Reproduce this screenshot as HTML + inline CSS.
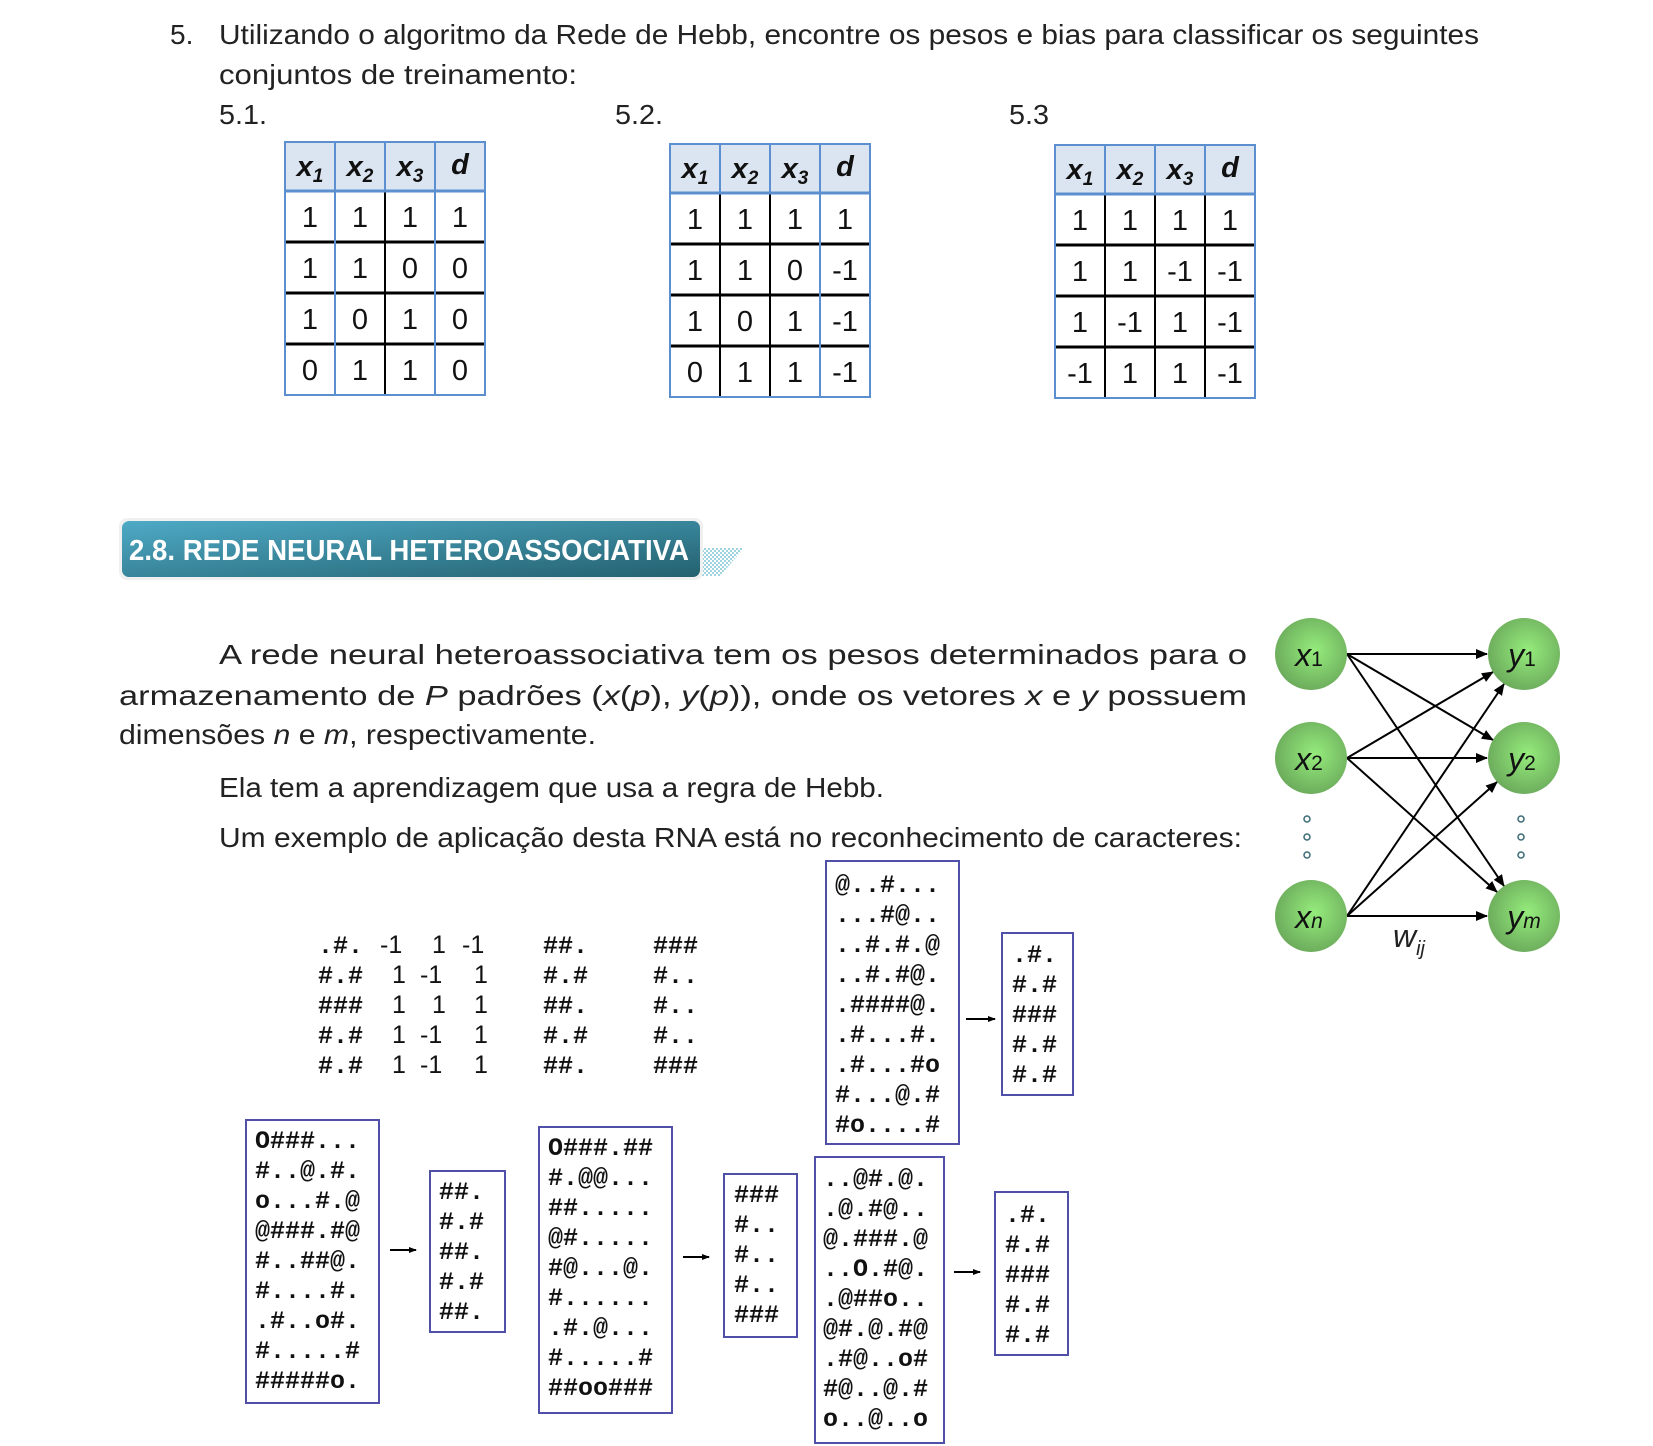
<!DOCTYPE html>
<html><head><meta charset="utf-8"><style>
html,body{margin:0;padding:0;background:#fff;}
svg{display:block;}
.t{font-family:"Liberation Sans",sans-serif;font-size:28px;fill:#222;}
.c{font-family:"Liberation Sans",sans-serif;font-size:29px;fill:#111;text-anchor:middle;}
.h{font-family:"Liberation Sans",sans-serif;font-size:29px;font-weight:bold;font-style:italic;fill:#111;text-anchor:middle;}
.m{font-family:"Liberation Mono",monospace;font-size:25px;font-weight:bold;fill:#111;}
.n{font-family:"Liberation Sans",sans-serif;font-size:25px;fill:#111;}
.nd{font-family:"Liberation Sans",sans-serif;font-size:32px;font-style:italic;fill:#111;text-anchor:middle;}
.box{fill:none;stroke:#5050a8;stroke-width:2;}
</style></head><body>
<svg width="1653" height="1446" viewBox="0 0 1653 1446" xmlns="http://www.w3.org/2000/svg">
<defs>
<linearGradient id="bg" x1="0" y1="0" x2="1" y2="1"><stop offset="0" stop-color="#4eaac6"/><stop offset="1" stop-color="#24616f"/></linearGradient>
<radialGradient id="ng" cx="0.55" cy="0.45" r="0.6"><stop offset="0" stop-color="#95ec7c"/><stop offset="1" stop-color="#6aa85a"/></radialGradient>
<pattern id="pt" width="4" height="4" patternUnits="userSpaceOnUse"><rect width="2" height="2" fill="#9fd3e0"/><rect x="2" y="2" width="2" height="2" fill="#9fd3e0"/></pattern>
<marker id="ar" markerWidth="12" markerHeight="10" refX="11" refY="5" orient="auto" markerUnits="userSpaceOnUse"><path d="M0,0 L12,5 L0,10 z" fill="#000"/></marker>
<marker id="ar2" markerWidth="8" markerHeight="6" refX="7" refY="3" orient="auto" markerUnits="userSpaceOnUse"><path d="M0,0 L8,3 L0,6 z" fill="#000"/></marker>
</defs>

<text class="t" x="170" y="44">5.</text>
<text class="t" x="219" y="44" textLength="1260" lengthAdjust="spacingAndGlyphs">Utilizando o algoritmo da Rede de Hebb, encontre os pesos e bias para classificar os seguintes</text>
<text class="t" x="219" y="84" textLength="358" lengthAdjust="spacingAndGlyphs">conjuntos de treinamento:</text>
<text class="t" x="219" y="124" textLength="48" lengthAdjust="spacingAndGlyphs">5.1.</text>
<text class="t" x="615" y="124" textLength="48" lengthAdjust="spacingAndGlyphs">5.2.</text>
<text class="t" x="1009" y="124" textLength="40" lengthAdjust="spacingAndGlyphs">5.3</text>

<!-- Table 1 -->
<g transform="translate(285,142)">
<rect x="0" y="0" width="200" height="49" fill="#dbe5f1"/>
<g stroke="#000" stroke-width="2"><line x1="100" y1="49" x2="100" y2="253"/><line x1="0" y1="100" x2="200" y2="100" stroke-width="3"/><line x1="0" y1="151" x2="200" y2="151" stroke-width="3"/><line x1="0" y1="202" x2="200" y2="202" stroke-width="3"/></g>
<g stroke="#5b8fd0" stroke-width="2" fill="none"><rect x="0" y="0" width="200" height="253"/><line x1="50" y1="0" x2="50" y2="253"/><line x1="100" y1="0" x2="100" y2="49"/><line x1="150" y1="0" x2="150" y2="253"/><line x1="0" y1="49" x2="200" y2="49" stroke-width="3"/></g>
<text class="h" x="25" y="34">x<tspan font-size="19" dy="6">1</tspan></text><text class="h" x="75" y="34">x<tspan font-size="19" dy="6">2</tspan></text><text class="h" x="125" y="34">x<tspan font-size="19" dy="6">3</tspan></text><text class="h" x="175" y="32">d</text>
<text class="c" y="85"><tspan x="25">1</tspan><tspan x="75">1</tspan><tspan x="125">1</tspan><tspan x="175">1</tspan></text>
<text class="c" y="136"><tspan x="25">1</tspan><tspan x="75">1</tspan><tspan x="125">0</tspan><tspan x="175">0</tspan></text>
<text class="c" y="187"><tspan x="25">1</tspan><tspan x="75">0</tspan><tspan x="125">1</tspan><tspan x="175">0</tspan></text>
<text class="c" y="238"><tspan x="25">0</tspan><tspan x="75">1</tspan><tspan x="125">1</tspan><tspan x="175">0</tspan></text>
</g>

<!-- Table 2 -->
<g transform="translate(670,144)">
<rect x="0" y="0" width="200" height="49" fill="#dbe5f1"/>
<g stroke="#000" stroke-width="2"><line x1="50" y1="49" x2="50" y2="253"/><line x1="100" y1="49" x2="100" y2="253"/><line x1="0" y1="100" x2="200" y2="100" stroke-width="3"/><line x1="0" y1="151" x2="200" y2="151" stroke-width="3"/><line x1="0" y1="202" x2="200" y2="202" stroke-width="3"/></g>
<g stroke="#5b8fd0" stroke-width="2" fill="none"><rect x="0" y="0" width="200" height="253"/><line x1="50" y1="0" x2="50" y2="49"/><line x1="100" y1="0" x2="100" y2="49"/><line x1="150" y1="0" x2="150" y2="253"/><line x1="0" y1="49" x2="200" y2="49" stroke-width="3"/></g>
<text class="h" x="25" y="34">x<tspan font-size="19" dy="6">1</tspan></text><text class="h" x="75" y="34">x<tspan font-size="19" dy="6">2</tspan></text><text class="h" x="125" y="34">x<tspan font-size="19" dy="6">3</tspan></text><text class="h" x="175" y="32">d</text>
<text class="c" y="85"><tspan x="25">1</tspan><tspan x="75">1</tspan><tspan x="125">1</tspan><tspan x="175">1</tspan></text>
<text class="c" y="136"><tspan x="25">1</tspan><tspan x="75">1</tspan><tspan x="125">0</tspan><tspan x="175">-1</tspan></text>
<text class="c" y="187"><tspan x="25">1</tspan><tspan x="75">0</tspan><tspan x="125">1</tspan><tspan x="175">-1</tspan></text>
<text class="c" y="238"><tspan x="25">0</tspan><tspan x="75">1</tspan><tspan x="125">1</tspan><tspan x="175">-1</tspan></text>
</g>

<!-- Table 3 -->
<g transform="translate(1055,145)">
<rect x="0" y="0" width="200" height="49" fill="#dbe5f1"/>
<g stroke="#000" stroke-width="2"><line x1="50" y1="49" x2="50" y2="253"/><line x1="100" y1="49" x2="100" y2="253"/><line x1="150" y1="49" x2="150" y2="253"/><line x1="0" y1="100" x2="200" y2="100" stroke-width="3"/><line x1="0" y1="151" x2="200" y2="151" stroke-width="3"/><line x1="0" y1="202" x2="200" y2="202" stroke-width="3"/></g>
<g stroke="#5b8fd0" stroke-width="2" fill="none"><rect x="0" y="0" width="200" height="253"/><line x1="50" y1="0" x2="50" y2="49"/><line x1="100" y1="0" x2="100" y2="49"/><line x1="150" y1="0" x2="150" y2="49"/><line x1="0" y1="49" x2="200" y2="49" stroke-width="3"/></g>
<text class="h" x="25" y="34">x<tspan font-size="19" dy="6">1</tspan></text><text class="h" x="75" y="34">x<tspan font-size="19" dy="6">2</tspan></text><text class="h" x="125" y="34">x<tspan font-size="19" dy="6">3</tspan></text><text class="h" x="175" y="32">d</text>
<text class="c" y="85"><tspan x="25">1</tspan><tspan x="75">1</tspan><tspan x="125">1</tspan><tspan x="175">1</tspan></text>
<text class="c" y="136"><tspan x="25">1</tspan><tspan x="75">1</tspan><tspan x="125">-1</tspan><tspan x="175">-1</tspan></text>
<text class="c" y="187"><tspan x="25">1</tspan><tspan x="75">-1</tspan><tspan x="125">1</tspan><tspan x="175">-1</tspan></text>
<text class="c" y="238"><tspan x="25">-1</tspan><tspan x="75">1</tspan><tspan x="125">1</tspan><tspan x="175">-1</tspan></text>
</g>

<!-- Banner -->
<polygon points="700,548 744,548 720,576 700,576" fill="url(#pt)"/>
<rect x="119" y="518" width="584" height="62" rx="8" fill="#f0f0f0"/>
<rect x="122" y="521" width="578" height="56" rx="7" fill="url(#bg)"/>
<text x="129" y="560" font-family="Liberation Sans, sans-serif" font-size="29" font-weight="bold" fill="#fff" textLength="560" lengthAdjust="spacingAndGlyphs">2.8. REDE NEURAL HETEROASSOCIATIVA</text>

<!-- Paragraph -->
<text class="t" x="219" y="664" textLength="1028" lengthAdjust="spacingAndGlyphs">A  rede  neural  heteroassociativa  tem  os  pesos  determinados  para  o</text>
<text class="t" x="119" y="705" textLength="1128" lengthAdjust="spacingAndGlyphs">armazenamento  de  <tspan font-style="italic">P</tspan>  padrões  (<tspan font-style="italic">x</tspan>(<tspan font-style="italic">p</tspan>),  <tspan font-style="italic">y</tspan>(<tspan font-style="italic">p</tspan>)),  onde  os  vetores  <tspan font-style="italic">x</tspan>  e  <tspan font-style="italic">y</tspan>  possuem</text>
<text class="t" x="119" y="744" textLength="477" lengthAdjust="spacingAndGlyphs">dimensões <tspan font-style="italic">n</tspan> e <tspan font-style="italic">m</tspan>, respectivamente.</text>
<text class="t" x="219" y="797" textLength="665" lengthAdjust="spacingAndGlyphs">Ela tem a aprendizagem que usa a regra de Hebb.</text>
<text class="t" x="219" y="847" textLength="1023" lengthAdjust="spacingAndGlyphs">Um exemplo de aplicação desta RNA está no reconhecimento de caracteres:</text>

<!-- Network -->
<g transform="translate(-7,-4)">
<g stroke="#000" stroke-width="2" marker-end="url(#ar)">
<line x1="1354" y1="658" x2="1494" y2="658"/>
<line x1="1354" y1="658" x2="1500" y2="744"/>
<line x1="1354" y1="658" x2="1511" y2="890"/>
<line x1="1354" y1="762" x2="1500" y2="676"/>
<line x1="1354" y1="762" x2="1494" y2="762"/>
<line x1="1354" y1="762" x2="1504" y2="896"/>
<line x1="1354" y1="920" x2="1511" y2="688"/>
<line x1="1354" y1="920" x2="1504" y2="786"/>
<line x1="1354" y1="920" x2="1494" y2="920"/>
</g>
<g fill="url(#ng)">
<circle cx="1318" cy="658" r="36"/><circle cx="1318" cy="762" r="36"/><circle cx="1318" cy="920" r="36"/>
<circle cx="1531" cy="658" r="36"/><circle cx="1531" cy="762" r="36"/><circle cx="1531" cy="920" r="36"/>
</g>
<text class="nd" x="1316" y="670">x<tspan font-style="normal" font-size="21">1</tspan></text>
<text class="nd" x="1316" y="774">x<tspan font-style="normal" font-size="21">2</tspan></text>
<text class="nd" x="1316" y="932">x<tspan font-size="21">n</tspan></text>
<text class="nd" x="1529" y="670">y<tspan font-style="normal" font-size="21">1</tspan></text>
<text class="nd" x="1529" y="774">y<tspan font-style="normal" font-size="21">2</tspan></text>
<text class="nd" x="1531" y="932">y<tspan font-size="21">m</tspan></text>
<g fill="none" stroke="#3a6b77" stroke-width="1.5">
<circle cx="1314" cy="823" r="3"/><circle cx="1314" cy="841" r="3"/><circle cx="1314" cy="859" r="3"/>
<circle cx="1528" cy="823" r="3"/><circle cx="1528" cy="841" r="3"/><circle cx="1528" cy="859" r="3"/>
</g>
<text x="1400" y="951" font-family="Liberation Sans, sans-serif" font-size="32" font-style="italic" fill="#222">w<tspan font-size="20" dy="8">ij</tspan></text>
</g>

<!-- Free example -->
<text class="m" x="318" y="953">.#.</text><text class="m" x="318" y="983">#.#</text><text class="m" x="318" y="1013">###</text><text class="m" x="318" y="1043">#.#</text><text class="m" x="318" y="1073">#.#</text>
<text class="n" y="953"><tspan x="380">-1</tspan><tspan x="432">1</tspan><tspan x="462">-1</tspan></text>
<text class="n" y="983"><tspan x="392">1</tspan><tspan x="420">-1</tspan><tspan x="474">1</tspan></text>
<text class="n" y="1013"><tspan x="392">1</tspan><tspan x="432">1</tspan><tspan x="474">1</tspan></text>
<text class="n" y="1043"><tspan x="392">1</tspan><tspan x="420">-1</tspan><tspan x="474">1</tspan></text>
<text class="n" y="1073"><tspan x="392">1</tspan><tspan x="420">-1</tspan><tspan x="474">1</tspan></text>
<text class="m" x="543" y="953">##.</text><text class="m" x="543" y="983">#.#</text><text class="m" x="543" y="1013">##.</text><text class="m" x="543" y="1043">#.#</text><text class="m" x="543" y="1073">##.</text>
<text class="m" x="653" y="953">###</text><text class="m" x="653" y="983">#..</text><text class="m" x="653" y="1013">#..</text><text class="m" x="653" y="1043">#..</text><text class="m" x="653" y="1073">###</text>

<!-- Box A -->
<rect class="box" x="826" y="861" width="133" height="283"/>
<g class="m"><text x="835" y="892">@..#...</text><text x="835" y="922">...#@..</text><text x="835" y="952">..#.#.@</text><text x="835" y="982">..#.#@.</text><text x="835" y="1012">.####@.</text><text x="835" y="1042">.#...#.</text><text x="835" y="1072">.#...#o</text><text x="835" y="1102">#...@.#</text><text x="835" y="1132">#o....#</text></g>
<line x1="966" y1="1019" x2="995" y2="1019" stroke="#000" stroke-width="2" marker-end="url(#ar2)"/>
<rect class="box" x="1002" y="933" width="71" height="162"/>
<g class="m"><text x="1012" y="962">.#.</text><text x="1012" y="992">#.#</text><text x="1012" y="1022">###</text><text x="1012" y="1052">#.#</text><text x="1012" y="1082">#.#</text></g>

<!-- Box C -->
<rect class="box" x="246" y="1120" width="133" height="283"/>
<g class="m"><text x="255" y="1148">O###...</text><text x="255" y="1178">#..@.#.</text><text x="255" y="1208">o...#.@</text><text x="255" y="1238">@###.#@</text><text x="255" y="1268">#..##@.</text><text x="255" y="1298">#....#.</text><text x="255" y="1328">.#..o#.</text><text x="255" y="1358">#.....#</text><text x="255" y="1388">#####o.</text></g>
<line x1="390" y1="1250" x2="416" y2="1250" stroke="#000" stroke-width="2" marker-end="url(#ar2)"/>
<rect class="box" x="430" y="1171" width="75" height="161"/>
<g class="m"><text x="439" y="1199">##.</text><text x="439" y="1229">#.#</text><text x="439" y="1259">##.</text><text x="439" y="1289">#.#</text><text x="439" y="1319">##.</text></g>

<!-- Box E -->
<rect class="box" x="539" y="1127" width="133" height="286"/>
<g class="m"><text x="548" y="1155">O###.##</text><text x="548" y="1185">#.@@...</text><text x="548" y="1215">##.....</text><text x="548" y="1245">@#.....</text><text x="548" y="1275">#@...@.</text><text x="548" y="1305">#......</text><text x="548" y="1335">.#.@...</text><text x="548" y="1365">#.....#</text><text x="548" y="1395">##oo###</text></g>
<line x1="683" y1="1257" x2="709" y2="1257" stroke="#000" stroke-width="2" marker-end="url(#ar2)"/>
<rect class="box" x="724" y="1174" width="73" height="163"/>
<g class="m"><text x="734" y="1202">###</text><text x="734" y="1232">#..</text><text x="734" y="1262">#..</text><text x="734" y="1292">#..</text><text x="734" y="1322">###</text></g>

<!-- Box G -->
<rect class="box" x="815" y="1157" width="129" height="286"/>
<g class="m"><text x="823" y="1186">..@#.@.</text><text x="823" y="1216">.@.#@..</text><text x="823" y="1246">@.###.@</text><text x="823" y="1276">..O.#@.</text><text x="823" y="1306">.@##o..</text><text x="823" y="1336">@#.@.#@</text><text x="823" y="1366">.#@..o#</text><text x="823" y="1396">#@..@.#</text><text x="823" y="1426">o..@..o</text></g>
<line x1="954" y1="1272" x2="980" y2="1272" stroke="#000" stroke-width="2" marker-end="url(#ar2)"/>
<rect class="box" x="995" y="1192" width="73" height="163"/>
<g class="m"><text x="1005" y="1222">.#.</text><text x="1005" y="1252">#.#</text><text x="1005" y="1282">###</text><text x="1005" y="1312">#.#</text><text x="1005" y="1342">#.#</text></g>
</svg>
</body></html>
